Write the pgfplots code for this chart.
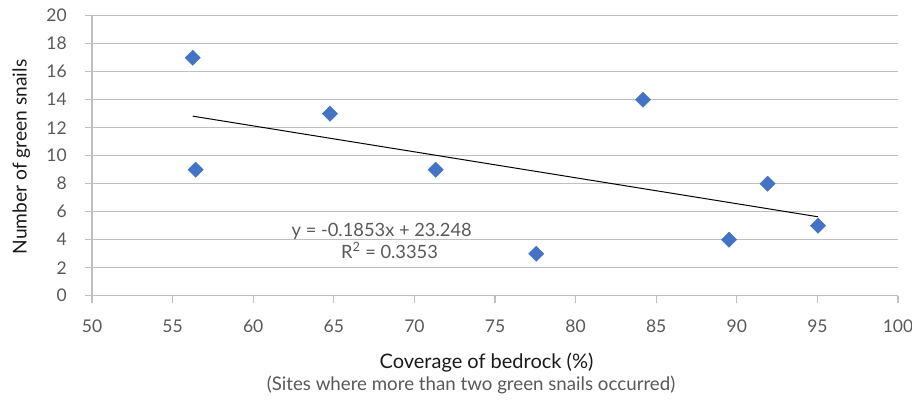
\documentclass[border=0pt]{standalone}
\usepackage{pgfplots}
\pgfplotsset{compat=1.18}
\usepackage{fontspec}
\setmainfont{Lato}
\definecolor{gridgray}{HTML}{BFBFBF}
\definecolor{ticktext}{HTML}{595959}
\definecolor{labeltext}{HTML}{1A1A1A}
\definecolor{markblue}{HTML}{4472C4}
\newcommand{\tickfont}{\fontsize{17.5}{20}\selectfont}
\newcommand{\notefont}{\fontsize{18.3}{21}\selectfont}
\newcommand{\subfont}{\fontsize{18.7}{22}\selectfont}

\begin{document}
\begin{tikzpicture}[x=1pt,y=1pt]
\path[use as bounding box] (0,0) rectangle (912,400);
\begin{axis}[
  at={(92pt,104.3pt)}, anchor=south west,
  scale only axis, width=806pt, height=280pt,
  xmin=50, xmax=100, ymin=0, ymax=20,
  xtick={50,55,...,100}, ytick={0,2,...,20},
  axis lines*=left,
  axis line style={gridgray, line width=1.3pt},
  ymajorgrids, grid style={gridgray, line width=1.3pt},
  tick align=outside, major tick length=7pt,
  tick style={gridgray, line width=1.3pt},
  /pgf/number format/assume math mode=true,
  ticklabel style={font=\tickfont, text=ticktext},
  yticklabel style={anchor=east, inner sep=0pt, xshift=-18pt},
  xticklabel style={anchor=north, inner sep=0pt, yshift=-17pt},
  clip=false,
]
% survey sites
\addplot[only marks, mark=square*, mark size=5.4pt,
  mark options={rotate=45, fill=markblue, draw=markblue}]
  coordinates {(56.25,17) (56.43,9) (64.76,13) (71.32,9) (77.56,3)
               (84.18,14) (89.52,4) (91.91,8) (95.04,5)};
% linear trend line
\addplot[black, line width=1pt] coordinates {(56.25,12.825) (95.04,5.637)};
\node[anchor=base, inner sep=0pt, font=\notefont, text=ticktext]
  at (axis cs:67.97,4.21) {y = -0.1853x + 23.248};
\node[anchor=base, inner sep=0pt, font=\notefont, text=ticktext]
  at (axis cs:68.46,2.69) {R\textsuperscript{2} = 0.3353};
\end{axis}
\node[anchor=base, inner sep=0pt, font=\fontsize{20}{24}\selectfont, text=labeltext]
  at (486.5,32) {Coverage of bedrock (\%)};
\node[anchor=base, inner sep=0pt, font=\subfont, text=ticktext]
  at (471,10) {(Sites where more than two green snails occurred)};
\node[rotate=90, anchor=base, inner sep=0pt, font=\fontsize{19.2}{23}\selectfont, text=labeltext]
  at (26.7,243) {Number of green snails};
\end{tikzpicture}
\end{document}
